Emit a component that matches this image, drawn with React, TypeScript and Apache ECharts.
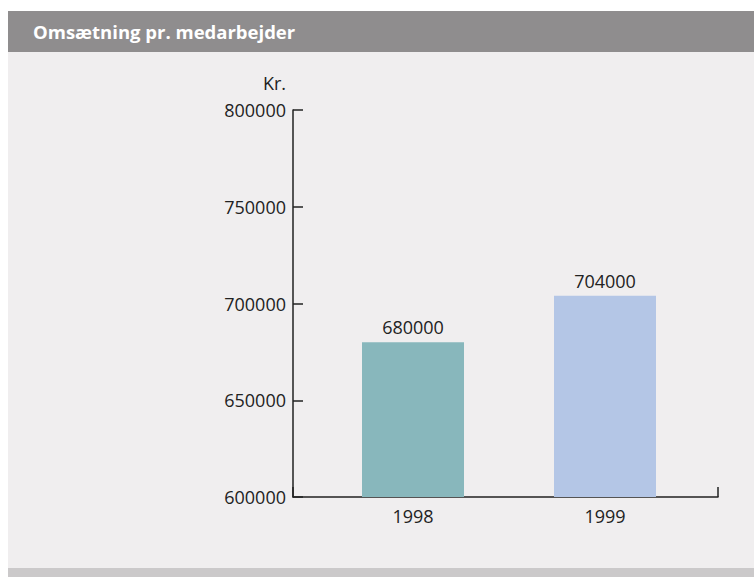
import React, { useEffect, useRef } from "react";
import * as echarts from "echarts";

const title = "Omsætning pr. medarbejder";
const unit = "Kr.";
const years = ["1998", "1999"];
const values = [680000, 704000];
const barColors = ["#88b7bc", "#b4c6e6"];
const yMin = 600000;
const yMax = 800000;
const yStep = 50000;

const FONT = "'Open Sans', 'Noto Sans', sans-serif";

export default function App() {
  const ref = useRef<HTMLDivElement>(null);
  useEffect(() => {
    if (!ref.current) return;
    const chart = echarts.init(ref.current, undefined, { renderer: "svg" });
    chart.setOption({
      animation: false,
      backgroundColor: "#ffffff",
      textStyle: { fontFamily: FONT },
      graphic: [
        { type: "rect", z: -10, shape: { x: 0, y: 44, width: 746, height: 516 }, style: { fill: "#f0eeef" } },
        { type: "rect", z: -10, shape: { x: 0, y: 3, width: 746, height: 41 }, style: { fill: "#8f8d8e" } },
        { type: "rect", z: -10, shape: { x: 0, y: 560, width: 746, height: 20 }, style: { fill: "#cbc9ca" } },
        {
          type: "text",
          x: 25,
          y: 23.5,
          style: {
            text: title,
            fill: "#ffffff",
            font: `bold 18.5px ${FONT}`,
            verticalAlign: "middle",
          },
        },
      ],
      grid: [
        { left: 285, right: 36, top: 102, bottom: 80 },
        { left: 309, right: 53, top: 102, bottom: 80 },
      ],
      xAxis: [
        {
          gridIndex: 0,
          type: "value",
          min: 0,
          max: 1,
          interval: 1,
          axisLine: { show: true, lineStyle: { color: "#222", width: 1.5 } },
          axisTick: { show: true, inside: true, length: 10, lineStyle: { color: "#222", width: 1.5 } },
          axisLabel: { show: false },
          splitLine: { show: false },
        },
        {
          gridIndex: 1,
          type: "category",
          data: years,
          axisLine: { show: false },
          axisTick: { show: false },
          axisLabel: { show: true, color: "#222", fontSize: 18, margin: 10, fontFamily: FONT },
        },
      ],
      yAxis: [
        {
          gridIndex: 0,
          type: "value",
          min: yMin,
          max: yMax,
          interval: yStep,
          name: unit,
          nameLocation: "end",
          nameGap: 27,
          nameTextStyle: {
            color: "#222",
            fontSize: 18,
            fontFamily: FONT,
            align: "right",
            verticalAlign: "middle",
            padding: [0, 7, 0, 0],
          },
          axisLine: { show: true, lineStyle: { color: "#222", width: 1.5 } },
          axisTick: { show: true, inside: true, length: 10, lineStyle: { color: "#222", width: 1.5 } },
          axisLabel: {
            color: "#222",
            fontSize: 18,
            margin: 7,
            fontFamily: FONT,
            formatter: (v: number) => String(v),
          },
          splitLine: { show: false },
        },
        {
          gridIndex: 1,
          type: "value",
          min: yMin,
          max: yMax,
          interval: yStep,
          show: false,
          splitLine: { show: false },
        },
      ],
      series: [
        {
          type: "bar",
          xAxisIndex: 1,
          yAxisIndex: 1,
          barWidth: 102,
          data: values.map((v, i) => ({ value: v, itemStyle: { color: barColors[i] } })),
          label: {
            show: true,
            position: "top",
            distance: 6,
            color: "#222",
            fontSize: 18,
            fontFamily: FONT,
          },
        },
      ],
    });
    return () => chart.dispose();
  }, []);
  return (
    <div
      ref={ref}
      style={{ position: "fixed", left: 8, top: 8, width: 746, height: 569 }}
    />
  );
}
